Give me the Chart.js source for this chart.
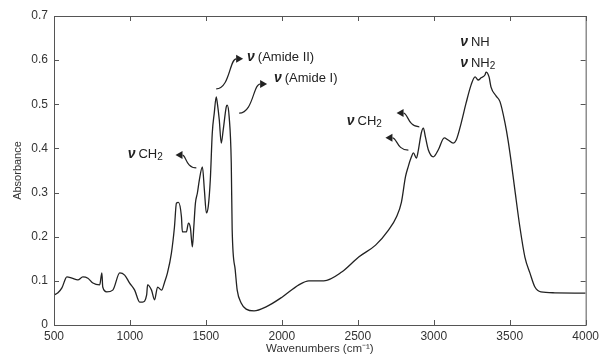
<!DOCTYPE html>
<html>
<head>
<meta charset="utf-8">
<script src="https://cdn.jsdelivr.net/npm/chart.js@4.4.1/dist/chart.umd.min.js"></script>
<style>
  body { margin: 0; background: #fff; }
  #wrap { width: 603px; height: 356px; position: relative; }
</style>
</head>
<body>
<div id="wrap"><canvas id="ftir"></canvas></div>
<script>
// Spectrum
const wavenumbers = [
    500, 526, 552, 585, 618, 657, 690, 723, 756, 801, 815, 821, 847, 887, 933, 965, 998,
    1031, 1064, 1083, 1110, 1116, 1142, 1162, 1182, 1208, 1228, 1247, 1273, 1293, 1306, 1319,
    1339, 1345, 1372, 1385, 1398, 1411, 1420, 1431, 1444, 1457, 1477, 1490, 1503, 1516, 1529,
    1542, 1555, 1568, 1575, 1588, 1601, 1614, 1634, 1640, 1653, 1667, 1673, 1693, 1706, 1732,
    1765, 1817, 1896, 2001, 2112, 2178, 2276, 2394, 2506, 2617, 2702, 2755, 2787, 2814, 2833,
    2853, 2866, 2886, 2899, 2918, 2932, 2945, 2964, 2997, 3030, 3069, 3095, 3128, 3148, 3181,
    3213, 3246, 3272, 3292, 3312, 3338, 3344, 3364, 3377, 3410, 3436, 3469, 3489, 3508, 3534,
    3567, 3600, 3633, 3666, 3705, 3797, 4000,
];
const absorbance = [
    0.068, 0.073, 0.084, 0.109, 0.106, 0.102, 0.109, 0.106, 0.095, 0.091, 0.118, 0.086, 0.075, 0.079, 0.118, 0.113, 0.095,
    0.079, 0.052, 0.052, 0.068, 0.091, 0.079, 0.057, 0.086, 0.079, 0.097, 0.118, 0.163, 0.222, 0.276, 0.278,
    0.245, 0.211, 0.211, 0.231, 0.220, 0.177, 0.220, 0.276, 0.299, 0.329, 0.358, 0.306, 0.254, 0.270, 0.329,
    0.435, 0.480, 0.517, 0.503, 0.465, 0.412, 0.442, 0.494, 0.498, 0.472, 0.367, 0.215, 0.125, 0.079, 0.050,
    0.036, 0.032, 0.041, 0.063, 0.091, 0.100, 0.100, 0.120, 0.154, 0.181, 0.215, 0.245, 0.278, 0.336, 0.360,
    0.381, 0.390, 0.378, 0.397, 0.435, 0.446, 0.426, 0.397, 0.381, 0.397, 0.424, 0.419, 0.412, 0.419, 0.458,
    0.503, 0.544, 0.562, 0.555, 0.560, 0.567, 0.573, 0.562, 0.539, 0.519, 0.506, 0.458, 0.419, 0.374, 0.306,
    0.222, 0.154, 0.118, 0.086, 0.075, 0.073, 0.072,
];

const xTicks = [500, 1000, 1500, 2000, 2500, 3000, 3500, 4000];
const yTicks = [0, 0.1, 0.2, 0.3, 0.4, 0.5, 0.6, 0.7];

// Band labels: text anchor in data units, optional arrows (tail -> head)
const bandLabels = [
    { text: 'CH', sub: '2', x: 985, y: 0.378, arrows: [[1437, 0.356, 1300, 0.385]] },
    { text: '(Amide II)', x: 1771, y: 0.598, arrows: [[1568, 0.535, 1745, 0.603]] },
    { text: '(Amide I)', x: 1948, y: 0.551, arrows: [[1719, 0.480, 1903, 0.546]] },
    { text: 'CH', sub: '2', x: 2427, y: 0.453, arrows: [[2905, 0.449, 2755, 0.480], [2833, 0.396, 2682, 0.424]] },
    { text: 'NH', x: 3174, y: 0.632, arrows: [] },
    { text: 'NH', sub: '2', x: 3174, y: 0.585, arrows: [] },
];

const FONT = "'Liberation Sans', Arial, sans-serif";
const INK = '#222';

function drawArrow(ctx, sx, sy, hx, hy) {
    const mx = sx + (hx - sx) * 0.5;
    const dir = hx > sx ? 1 : -1;
    const ex = hx - dir * 7;
    ctx.beginPath();
    ctx.moveTo(sx, sy);
    ctx.bezierCurveTo(mx, sy, mx, hy, ex, hy);
    ctx.stroke();
    ctx.beginPath();
    ctx.moveTo(hx, hy);
    ctx.lineTo(ex, hy - 4);
    ctx.lineTo(ex, hy + 4);
    ctx.closePath();
    ctx.fill();
}

const annotate = {
    id: 'annotate',
    afterDraw(chart) {
        const { ctx, chartArea: a, scales: { x, y } } = chart;
        ctx.save();

        // frame with inward ticks on all four sides
        ctx.strokeStyle = '#555';
        ctx.lineWidth = 1;
        ctx.strokeRect(a.left + 0.5, a.top + 0.5, a.right - a.left, a.bottom - a.top);
        ctx.beginPath();
        xTicks.forEach(v => {
            const px = Math.round(x.getPixelForValue(v)) + 0.5;
            ctx.moveTo(px, a.bottom); ctx.lineTo(px, a.bottom - 5);
            ctx.moveTo(px, a.top); ctx.lineTo(px, a.top + 5);
        });
        yTicks.forEach(v => {
            const py = Math.round(y.getPixelForValue(v)) + 0.5;
            ctx.moveTo(a.left, py); ctx.lineTo(a.left + 5, py);
            ctx.moveTo(a.right, py); ctx.lineTo(a.right - 5, py);
        });
        ctx.stroke();

        // band labels
        ctx.fillStyle = INK;
        ctx.strokeStyle = INK;
        ctx.lineWidth = 1.2;
        ctx.textBaseline = 'alphabetic';
        ctx.textAlign = 'left';
        bandLabels.forEach(b => {
            let px = x.getPixelForValue(b.x);
            const py = y.getPixelForValue(b.y);
            ctx.font = `italic bold 14px ${FONT}`;
            ctx.fillText('ν', px, py);
            px += ctx.measureText('ν').width + 3;
            ctx.font = `13px ${FONT}`;
            ctx.fillText(b.text, px, py);
            if (b.sub) {
                px += ctx.measureText(b.text).width;
                ctx.font = `10px ${FONT}`;
                ctx.fillText(b.sub, px, py + 2);
            }
            b.arrows.forEach(([sx, sy, hx, hy]) => {
                drawArrow(ctx, x.getPixelForValue(sx), y.getPixelForValue(sy),
                          x.getPixelForValue(hx), y.getPixelForValue(hy));
            });
        });
        ctx.restore();
    }
};

new Chart(document.getElementById('ftir'), {
    type: 'line',
    data: {
        datasets: [{
            data: wavenumbers.map((w, i) => ({ x: w, y: absorbance[i] })),
            borderColor: INK,
            borderWidth: 1.3,
            pointRadius: 0,
            cubicInterpolationMode: 'monotone',
            fill: false,
        }],
    },
    options: {
        responsive: true,
        maintainAspectRatio: false,
        animation: false,
        layout: { padding: { top: 16, right: 15, left: 11, bottom: 0 } },
        plugins: { legend: { display: false }, tooltip: { enabled: false } },
        scales: {
            x: {
                type: 'linear',
                min: 500,
                max: 4000,
                afterBuildTicks: (s) => { s.ticks = xTicks.map(v => ({ value: v })); },
                afterFit: (s) => { s.height = 31; },
                ticks: {
                    color: '#333',
                    font: { family: FONT, size: 12 },
                    padding: 4,
                    maxRotation: 0,
                    callback: (v) => String(v),
                },
                grid: { display: false, drawTicks: false },
                border: { display: false },
                title: {
                    display: true,
                    text: 'Wavenumbers (cm⁻¹)',
                    color: '#333',
                    font: { family: FONT, size: 11.5 },
                    padding: { top: 0, bottom: 0 },
                },
            },
            y: {
                min: 0,
                max: 0.7,
                afterBuildTicks: (s) => { s.ticks = yTicks.map(v => ({ value: v })); },
                afterFit: (s) => { s.width = 43; },
                ticks: {
                    color: '#333',
                    font: { family: FONT, size: 12 },
                    padding: 6,
                    callback: (v) => String(+v.toFixed(1)),
                },
                grid: { display: false, drawTicks: false },
                border: { display: false },
                title: {
                    display: true,
                    text: 'Absorbance',
                    color: '#333',
                    font: { family: FONT, size: 11 },
                    padding: { top: 0, bottom: 0 },
                },
            },
        },
    },
    plugins: [annotate],
});
</script>
</body>
</html>
